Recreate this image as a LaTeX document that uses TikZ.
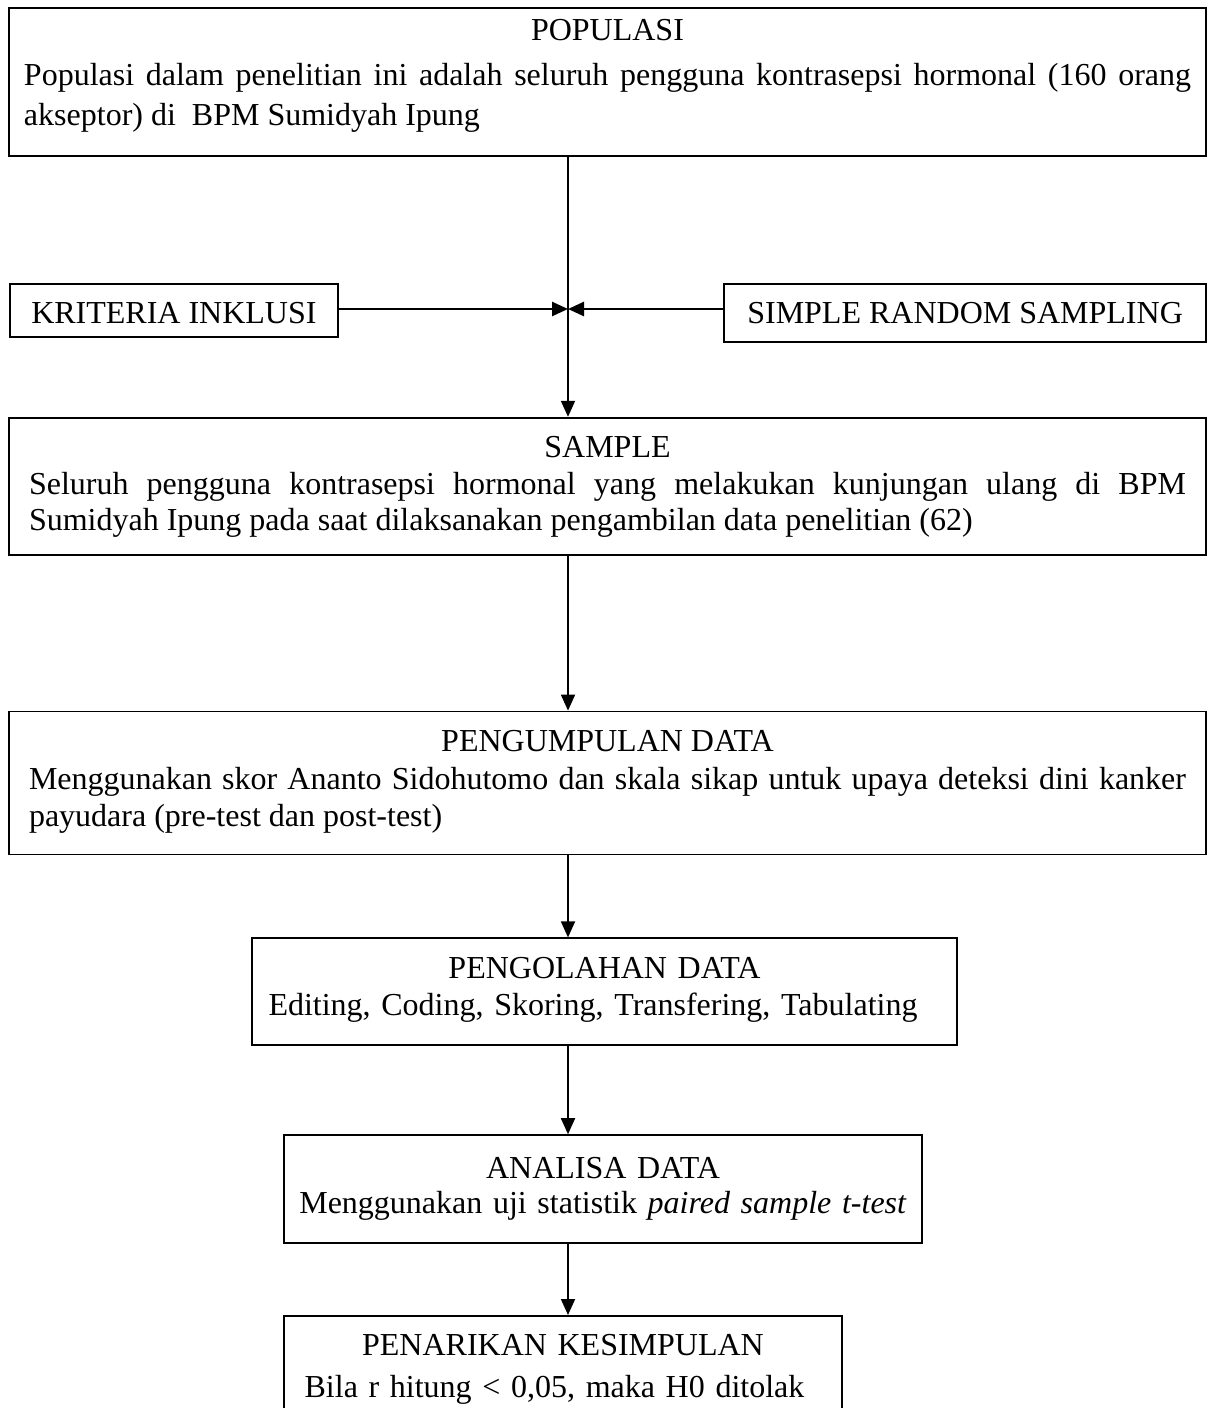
\documentclass[tikz,border=0pt]{standalone}
\usepackage{fontspec}
\setmainfont{Liberation Serif}
\usetikzlibrary{arrows.meta,positioning}

\begin{document}
\begin{tikzpicture}[->,>={Triangle[length=8pt,width=7pt]},x=0.5pt,y=-0.5pt,
                    line width=0.9pt]
  \tikzstyle{stepbox}=[draw=black,inner sep=0pt,text height=20pt,
                       font=\fontsize{16}{18.5}\selectfont]
  \tikzstyle{widebox}=[stepbox,inner xsep=10pt,text width=578.5pt,align=justify]

  \useasboundingbox (0,0) rectangle (1210,1408);

  \node[widebox,anchor=north,inner xsep=7.5pt,text width=583.5pt,
        text height=16.5pt,text depth=57.5pt,
        font=\fontsize{16}{20}\selectfont] (pop) at (607.5,7)
    {\centerline{POPULASI}\vskip2.5pt
     Populasi dalam penelitian ini adalah seluruh pengguna kontrasepsi
     hormonal (160 orang\linebreak akseptor) di\ \ BPM Sumidyah Ipung};

  \node[stepbox,anchor=north west,minimum width=164pt,text depth=6.5pt]
    (krit) at (9,283) {KRITERIA INKLUSI};
  \node[stepbox,anchor=north east,minimum width=241pt,text depth=9pt]
    (srs) at (1207,283) {SIMPLE RANDOM SAMPLING};
  \coordinate (join) at (568,309);

  \node[widebox,text depth=48.5pt,font=\fontsize{16}{18}\selectfont]
    (samp) [below=130pt of pop]
    {\centerline{SAMPLE}\vskip0.5pt
     Seluruh pengguna kontrasepsi hormonal yang melakukan kunjungan ulang
     di BPM\linebreak Sumidyah Ipung pada saat dilaksanakan pengambilan
     data penelitian (62)};

  \node[widebox,text depth=51.5pt,font=\fontsize{16}{18.75}\selectfont]
    (kump) [below=77.5pt of samp]
    {\centerline{PENGUMPULAN DATA}
     Menggunakan skor Ananto Sidohutomo dan skala sikap untuk upaya deteksi
     dini kanker\linebreak payudara (pre-test dan post-test)};

  \node[stepbox,text width=352.5pt,align=center,text depth=33.5pt]
    (olah) [below=41pt of kump,xshift=-1.5pt]
    {PENGOLAHAN DATA\\
     Editing, Coding, Skoring, Transfering, Tabulating\hspace{11.5pt}\null};

  \node[stepbox,text width=319pt,align=center,text height=21.5pt,
        text depth=32.5pt,font=\fontsize{16}{17.5}\selectfont]
    (anal) [below=44pt of olah,xshift=-0.75pt]
    {ANALISA DATA\\
     Menggunakan uji statistik \textit{paired sample t-test}};

  \node[stepbox,text width=279pt,align=center,text depth=32pt,
        font=\fontsize{16}{21}\selectfont]
    (tarik) [below=35.5pt of anal,xshift=-20pt]
    {PENARIKAN KESIMPULAN\\
     Bila r hitung < 0,05, maka H0 ditolak\hspace{8.5pt}\null};

  \path (join |- pop.south) edge (join |- samp.north)
        (join |- samp.south) edge (join |- kump.north)
        (join |- kump.south) edge (join |- olah.north)
        (join |- olah.south) edge (join |- anal.north)
        (join |- anal.south) edge (join |- tarik.north);
  \path[line width=1.3pt] (krit.east |- join) edge (join)
                          (srs.west |- join) edge (join);
\end{tikzpicture}
\end{document}
